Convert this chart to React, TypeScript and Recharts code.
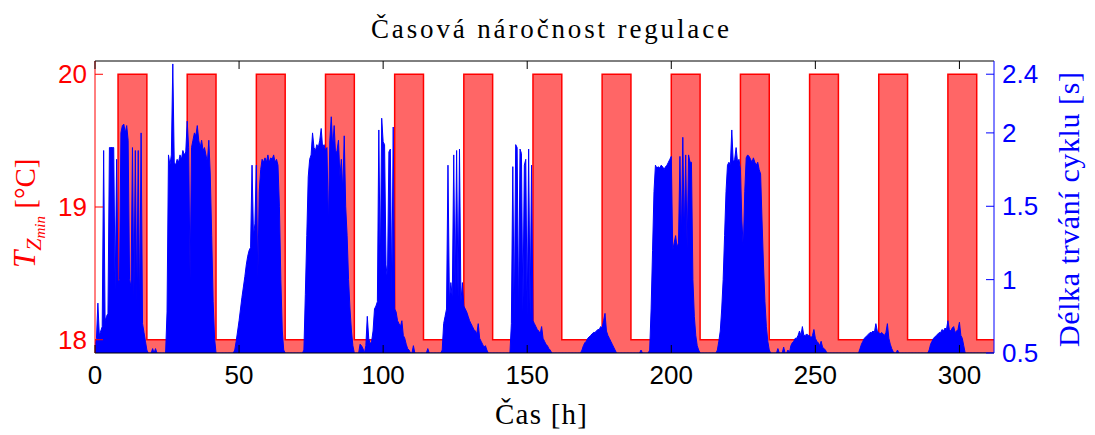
import React from 'react';
import { ComposedChart, Area, XAxis, YAxis } from 'recharts';

const W = 1095;
const H = 435;
const PLOT = { left: 95, right: 994, top: 61, bottom: 353 };

const timeTicks = [0, 50, 100, 150, 200, 250, 300];
const tempTicks = [18, 19, 20];
const cycleTicks = [0.5, 1, 1.5, 2, 2.4];

// setpoint schedule [h]
const heatingOn = [8, 32, 56, 80, 104, 128, 152, 176, 200, 224, 248, 272, 296];
const heatingOff = [18, 42, 66, 90, 114, 138, 162, 186, 210, 234, 258, 282, 306];
const setpointLow = 18;
const setpointHigh = 20;

// cycle duration [s], one value every 0.5 h, one array per day
const cycleDay0 = [0.55, 0.6, 0.84, 0.62, 0.65, 0.68, 1.88, 0.72, 0.75, 0.77, 1.9, 1.9, 1.9, 1.9, 0.92, 1.82, 0.98, 1.0, 2.0, 2.05, 2.06, 2.0, 2.05, 1.95, 1.0, 0.95, 1.9, 0.88, 1.88, 0.82, 1.88, 0.76, 2.0, 0.7, 0.64, 0.58, 0.52, 0.5, 0.5, 0.5, 0.53, 0.5, 0.53, 0.5, 0.5, 0.5, 0.5, 0.5];
const cycleDay1 = [0.5, 0.5, 0.78, 1.85, 1.78, 1.85, 2.47, 1.8, 1.78, 1.82, 1.8, 1.85, 1.82, 1.88, 1.85, 1.87, 2.08, 1.9, 1.0, 1.9, 1.95, 2.0, 1.98, 2.05, 1.95, 1.9, 1.95, 1.88, 1.9, 1.85, 1.8, 1.95, 1.72, 1.3, 0.85, 0.6, 0.5, 0.5, 0.5, 0.5, 0.5, 0.5, 0.5, 0.5, 0.5, 0.5, 0.5, 0.5];
const cycleDay2 = [0.5, 0.52, 0.58, 0.65, 0.72, 0.8, 0.88, 0.95, 1.02, 1.1, 1.16, 1.2, 1.22, 1.78, 1.3, 1.38, 1.78, 1.0, 1.6, 1.75, 1.82, 1.8, 1.83, 1.8, 1.85, 1.8, 1.83, 1.82, 1.85, 1.8, 1.82, 1.78, 1.5, 1.0, 0.65, 0.52, 0.5, 0.5, 0.5, 0.5, 0.5, 0.5, 0.5, 0.5, 0.5, 0.5, 0.5, 0.5];
const cycleDay3 = [0.5, 0.52, 0.9, 1.3, 1.7, 1.82, 1.85, 2.0, 1.9, 1.88, 1.92, 1.9, 1.95, 2.03, 1.9, 1.92, 1.88, 1.9, 1.37, 1.95, 2.11, 1.9, 2.05, 1.85, 1.88, 1.95, 1.7, 1.82, 1.6, 1.98, 1.5, 1.3, 1.0, 0.8, 0.65, 0.55, 0.5, 0.5, 0.5, 0.5, 0.56, 0.55, 0.53, 0.5, 0.55, 0.75, 0.6, 0.56];
const cycleDay4 = [0.58, 0.65, 0.8, 0.82, 0.85, 2.02, 1.05, 2.1, 1.94, 1.92, 1.1, 1.0, 1.87, 1.89, 0.9, 2.04, 0.8, 0.78, 0.72, 0.7, 0.68, 0.72, 0.62, 0.6, 0.56, 0.53, 0.52, 0.5, 0.5, 0.55, 0.5, 0.5, 0.5, 0.5, 0.5, 0.5, 0.5, 0.5, 0.5, 0.53, 0.5, 0.5, 0.5, 0.5, 0.5, 0.5, 0.5, 0.5];
const cycleDay5 = [0.5, 0.52, 0.7, 0.75, 0.8, 1.78, 0.85, 0.98, 0.88, 1.85, 0.9, 1.88, 0.88, 1.89, 0.85, 0.98, 0.82, 0.8, 0.78, 0.75, 0.72, 0.7, 0.68, 0.66, 0.65, 0.63, 0.7, 0.6, 0.58, 0.56, 0.54, 0.55, 0.52, 0.5, 0.5, 0.5, 0.5, 0.5, 0.5, 0.5, 0.5, 0.5, 0.5, 0.5, 0.5, 0.5, 0.5, 0.5];
const cycleDay6 = [0.5, 0.7, 1.77, 0.72, 1.92, 1.9, 0.75, 1.89, 1.86, 0.78, 1.78, 1.82, 0.75, 1.89, 0.75, 1.78, 0.72, 0.7, 0.68, 0.66, 0.65, 0.63, 0.68, 0.6, 0.58, 0.56, 0.55, 0.53, 0.52, 0.5, 0.5, 0.5, 0.5, 0.5, 0.5, 0.5, 0.5, 0.5, 0.5, 0.5, 0.5, 0.5, 0.5, 0.5, 0.5, 0.5, 0.5, 0.5];
const cycleDay7 = [0.5, 0.5, 0.52, 0.55, 0.57, 0.58, 0.6, 0.61, 0.62, 0.63, 0.64, 0.64, 0.65, 0.66, 0.66, 0.68, 0.67, 0.72, 0.77, 0.65, 0.62, 0.6, 0.58, 0.56, 0.54, 0.52, 0.5, 0.5, 0.5, 0.5, 0.5, 0.5, 0.5, 0.5, 0.5, 0.5, 0.5, 0.5, 0.5, 0.5, 0.5, 0.5, 0.5, 0.52, 0.5, 0.5, 0.5, 0.5];
const cycleDay8 = [0.5, 0.52, 0.8, 1.2, 1.6, 1.78, 1.76, 1.77, 1.76, 1.78, 1.77, 1.75, 1.77, 1.78, 1.8, 1.82, 1.84, 1.2, 1.25, 1.3, 1.22, 1.25, 1.84, 1.28, 1.97, 1.3, 1.85, 1.2, 1.85, 1.8, 1.8, 1.0, 0.75, 0.62, 0.55, 0.52, 0.5, 0.5, 0.5, 0.5, 0.5, 0.5, 0.5, 0.5, 0.5, 0.5, 0.5, 0.5];
const cycleDay9 = [0.52, 0.58, 0.65, 0.8, 1.0, 1.3, 1.6, 1.78, 1.8, 1.78, 2.02, 1.8, 1.82, 1.9, 1.8, 1.82, 1.75, 1.4, 1.21, 1.6, 1.83, 1.85, 1.84, 1.82, 1.8, 1.83, 1.8, 1.78, 1.8, 1.75, 1.72, 1.4, 1.1, 0.85, 0.68, 0.58, 0.52, 0.5, 0.5, 0.5, 0.5, 0.5, 0.53, 0.5, 0.5, 0.5, 0.54, 0.5];
const cycleDay10 = [0.5, 0.52, 0.5, 0.55, 0.57, 0.58, 0.6, 0.6, 0.62, 0.65, 0.62, 0.68, 0.62, 0.62, 0.63, 0.62, 0.62, 0.6, 0.62, 0.66, 0.6, 0.58, 0.57, 0.55, 0.58, 0.54, 0.53, 0.52, 0.5, 0.5, 0.5, 0.5, 0.5, 0.5, 0.5, 0.5, 0.5, 0.5, 0.5, 0.5, 0.5, 0.5, 0.5, 0.5, 0.5, 0.5, 0.5, 0.5];
const cycleDay11 = [0.5, 0.5, 0.5, 0.53, 0.56, 0.58, 0.6, 0.61, 0.62, 0.63, 0.64, 0.64, 0.65, 0.64, 0.7, 0.65, 0.64, 0.63, 0.64, 0.63, 0.62, 0.64, 0.7, 0.6, 0.56, 0.53, 0.51, 0.5, 0.5, 0.52, 0.5, 0.5, 0.5, 0.5, 0.5, 0.5, 0.5, 0.5, 0.5, 0.5, 0.5, 0.5, 0.5, 0.5, 0.5, 0.5, 0.5, 0.5];
const cycleDay12 = [0.5, 0.5, 0.5, 0.52, 0.56, 0.58, 0.6, 0.61, 0.62, 0.63, 0.64, 0.64, 0.66, 0.65, 0.67, 0.66, 0.72, 0.66, 0.65, 0.67, 0.68, 0.64, 0.65, 0.66, 0.71, 0.62, 0.6, 0.55, 0.5, 0.5, 0.5, 0.5, 0.5, 0.5, 0.5, 0.5, 0.5, 0.5, 0.5, 0.5, 0.5, 0.5, 0.5, 0.5, 0.5, 0.5, 0.5, 0.5];

const cycleDays = [cycleDay0, cycleDay1, cycleDay2, cycleDay3, cycleDay4, cycleDay5, cycleDay6, cycleDay7, cycleDay8, cycleDay9, cycleDay10, cycleDay11, cycleDay12];

const rows: { t: number; temp: number; cycle: number }[] = [];
for (let i = 0; i <= 624; i++) {
  const t = i / 2;
  const day = Math.floor(t / 24);
  const idx = Math.round((t - day * 24) * 2);
  const dayVals = cycleDays[day];
  const cycle = dayVals && dayVals[idx] !== undefined ? dayVals[idx] : 0.5;
  const on = heatingOn.some((s, k) => t >= s && t < heatingOff[k]);
  rows.push({ t, temp: on ? setpointHigh : setpointLow, cycle });
}

const sans = '"Liberation Sans", Arial, sans-serif';
const serif = '"Liberation Serif", "Times New Roman", serif';

const LeftTick = (props: any) => {
  const { y, payload } = props;
  return (
    <g>
      <line x1={PLOT.left} x2={PLOT.left + 8} y1={y} y2={y} stroke="#ff0000" />
      <text x={87} y={y} textAnchor="end" dominantBaseline="central" fill="#ff0000" fontSize={26} fontFamily={sans}>
        {payload.value}
      </text>
    </g>
  );
};

const RightTick = (props: any) => {
  const { y, payload } = props;
  return (
    <g>
      <line x1={PLOT.right - 8} x2={PLOT.right} y1={y} y2={y} stroke="#0000ff" />
      <text x={1002} y={y} textAnchor="start" dominantBaseline="central" fill="#0000ff" fontSize={26} fontFamily={sans}>
        {payload.value}
      </text>
    </g>
  );
};

const BottomTick = (props: any) => {
  const { x, payload } = props;
  return (
    <g>
      <line x1={x} x2={x} y1={PLOT.bottom} y2={PLOT.bottom - 8} stroke="#000" />
      <text x={x} y={384} textAnchor="middle" fill="#000" fontSize={26} fontFamily={sans}>
        {payload.value}
      </text>
    </g>
  );
};

const TopTick = (props: any) => {
  const { x } = props;
  return <line x1={x} x2={x} y1={PLOT.top} y2={PLOT.top + 8} stroke="#000" />;
};

export default function App() {
  return (
    <div style={{ position: 'absolute', left: 0, top: 0, width: W, height: H, background: '#fff' }}>
      <ComposedChart width={W} height={H} data={rows} margin={{ top: 60, right: 0, bottom: 0, left: 0 }}>
        <XAxis
          xAxisId="top"
          orientation="top"
          type="number"
          dataKey="t"
          domain={[0, 312]}
          ticks={timeTicks}
          allowDataOverflow
          height={1}
          axisLine={{ stroke: '#000' }}
          tickLine={false}
          tick={TopTick}
        />
        <XAxis
          type="number"
          dataKey="t"
          domain={[0, 312]}
          ticks={timeTicks}
          allowDataOverflow
          height={82}
          axisLine={{ stroke: '#000' }}
          tickLine={false}
          tick={BottomTick}
        />
        <YAxis
          yAxisId="temp"
          orientation="left"
          type="number"
          domain={[17.9, 20.1]}
          ticks={tempTicks}
          allowDataOverflow
          width={95}
          axisLine={{ stroke: '#ff0000' }}
          tickLine={false}
          tick={LeftTick}
        />
        <YAxis
          yAxisId="cycle"
          orientation="right"
          type="number"
          domain={[0.5, 2.49]}
          ticks={cycleTicks}
          allowDataOverflow
          width={101}
          axisLine={{ stroke: '#0000ff' }}
          tickLine={false}
          tick={RightTick}
        />
        <Area
          yAxisId="temp"
          type="stepAfter"
          dataKey="temp"
          stroke="#ff0000"
          strokeWidth={1.5}
          fill="#ff6666"
          fillOpacity={1}
          dot={false}
          activeDot={false}
          isAnimationActive={false}
        />
        <Area
          yAxisId="cycle"
          type="linear"
          dataKey="cycle"
          stroke="#0000ff"
          strokeWidth={1}
          fill="#0000ff"
          fillOpacity={1}
          dot={false}
          activeDot={false}
          isAnimationActive={false}
        />
      </ComposedChart>
      <svg width={W} height={H} style={{ position: 'absolute', left: 0, top: 0, pointerEvents: 'none' }}>
        <text x={550} y={38} textAnchor="middle" fontSize={27} fontFamily={serif} fill="#000" textLength={358} lengthAdjust="spacing">
          Časová náročnost regulace
        </text>
        <text x={541} y={424} textAnchor="middle" fontSize={29} fontFamily={serif} fill="#000" textLength={92} lengthAdjust="spacing">
          Čas [h]
        </text>
        <text transform="translate(35, 268) rotate(-90)" fontFamily={serif} fill="#ff0000">
          <tspan fontSize={31} fontStyle="italic">T</tspan>
          <tspan fontSize={22} fontStyle="italic" dy={6}>Z</tspan>
          <tspan fontSize={15} fontStyle="italic" dy={4}>min</tspan>
          <tspan fontSize={29} dy={-10}> [°C]</tspan>
        </text>
        <text transform="translate(1079, 347) rotate(-90)" fontSize={30} fontFamily={serif} fill="#0000ff" textLength={275} lengthAdjust="spacing">
          Délka trvání cyklu [s]
        </text>
      </svg>
    </div>
  );
}
